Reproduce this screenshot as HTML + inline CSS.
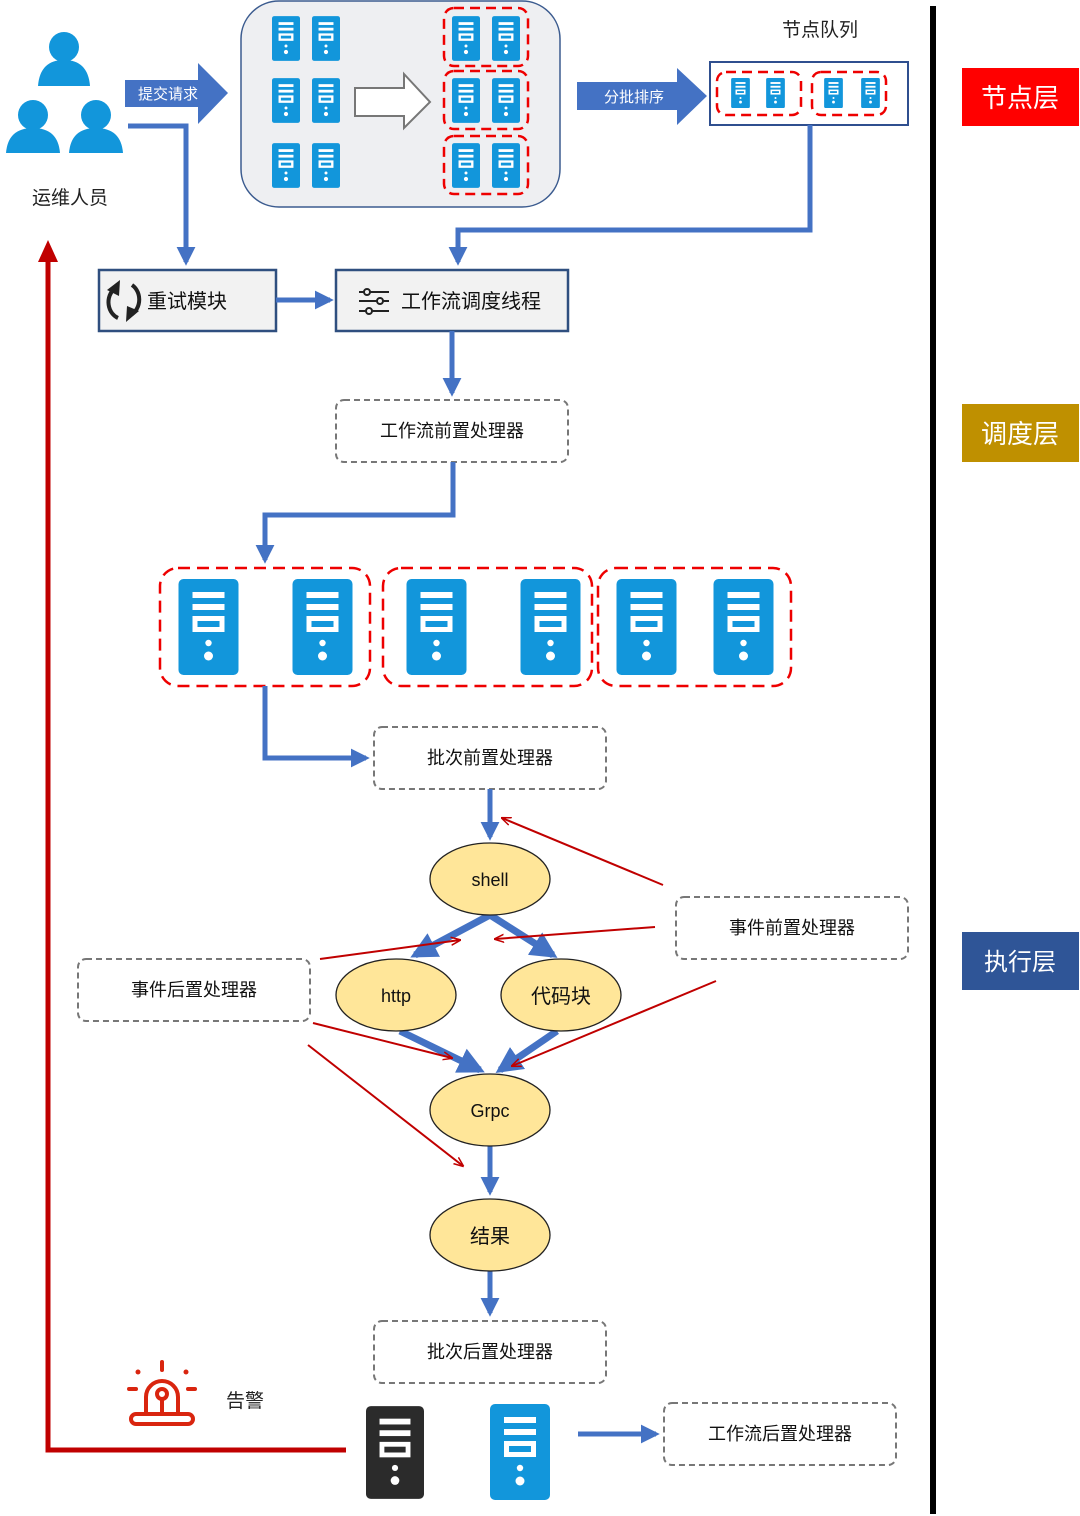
<!DOCTYPE html>
<html><head><meta charset="utf-8"><style>
html,body{margin:0;padding:0;background:#fff;}
svg{display:block;}
text{font-family:"Liberation Sans","Noto Sans CJK SC",sans-serif;}
</style></head><body>
<svg width="1080" height="1516" viewBox="0 0 1080 1516" xmlns="http://www.w3.org/2000/svg">
<defs>
<symbol id="srv" viewBox="0 0 60 96">
<rect x="0" y="0" width="60" height="96" rx="5" fill="currentColor"/>
<rect x="14" y="13" width="32" height="6" fill="#fff"/>
<rect x="14" y="25" width="32" height="6" fill="#fff"/>
<rect x="14" y="37" width="32" height="16" fill="#fff"/>
<rect x="19" y="42" width="22" height="6" fill="currentColor"/>
<circle cx="30" cy="64" r="3.2" fill="#fff"/>
<circle cx="30" cy="77" r="4.5" fill="#fff"/>
</symbol>
<marker id="ab" viewBox="0 0 10 10" refX="8" refY="5" markerWidth="3.8" markerHeight="3.8" orient="auto"><path d="M0,0L10,5L0,10z" fill="#4472c4"/></marker>
<marker id="ar" viewBox="0 0 10 10" refX="9" refY="5" markerWidth="10" markerHeight="10" orient="auto" markerUnits="userSpaceOnUse"><path d="M0,1L10,5L0,9" fill="none" stroke="#c00000" stroke-width="1.5"/></marker>
</defs>

<g fill="#1296db">
<circle cx="64" cy="47" r="15"/><path d="M38,86 Q40,60 64,60 Q88,60 90,86z"/>
<circle cx="33" cy="115" r="15"/><path d="M6,153 Q8,128 33,128 Q58,128 60,153z"/>
<circle cx="96" cy="115" r="15"/><path d="M69,153 Q71,128 96,128 Q121,128 123,153z"/>
</g>
<text x="70" y="204" font-size="19" text-anchor="middle" fill="#222">运维人员</text>

<path d="M125,80H198V63L228,93L198,124V107H125z" fill="#4472c4"/>
<text x="168" y="99" font-size="15" text-anchor="middle" fill="#fff">提交请求</text>
<path d="M128,126H186V262" fill="none" stroke="#4472c4" stroke-width="5" marker-end="url(#ab)"/>

<rect x="241" y="1" width="319" height="206" rx="38" fill="#eeeff2" stroke="#3b5b8f" stroke-width="1.5"/>
<g color="#1296db">
<use href="#srv" x="272" y="14" width="28" height="49"/><use href="#srv" x="312" y="14" width="28" height="49"/>
<use href="#srv" x="272" y="76" width="28" height="49"/><use href="#srv" x="312" y="76" width="28" height="49"/>
<use href="#srv" x="272" y="141" width="28" height="49"/><use href="#srv" x="312" y="141" width="28" height="49"/>
<use href="#srv" x="452" y="14" width="28" height="49"/><use href="#srv" x="492" y="14" width="28" height="49"/>
<use href="#srv" x="452" y="76" width="28" height="49"/><use href="#srv" x="492" y="76" width="28" height="49"/>
<use href="#srv" x="452" y="141" width="28" height="49"/><use href="#srv" x="492" y="141" width="28" height="49"/>
</g>
<g fill="none" stroke="#e00" stroke-width="2.5" stroke-dasharray="10,6">
<rect x="444" y="8" width="84" height="58" rx="10"/>
<rect x="444" y="71" width="84" height="58" rx="10"/>
<rect x="444" y="136" width="84" height="58" rx="10"/>
</g>
<path d="M355,88H404V74L430,102L404,128V116H355z" fill="#fff" stroke="#777" stroke-width="2"/>

<path d="M577,82H677V68L707,96L677,125V110H577z" fill="#4472c4"/>
<text x="634" y="102" font-size="15" text-anchor="middle" fill="#fff">分批排序</text>
<text x="820" y="36" font-size="19" text-anchor="middle" fill="#222">节点队列</text>
<rect x="710" y="62" width="198" height="63" fill="#fff" stroke="#2f4f8f" stroke-width="2"/>
<g color="#1296db">
<use href="#srv" x="731" y="78" width="19" height="30"/><use href="#srv" x="766" y="78" width="19" height="30"/>
<use href="#srv" x="824" y="78" width="19" height="30"/><use href="#srv" x="861" y="78" width="19" height="30"/>
</g>
<g fill="none" stroke="#e00" stroke-width="2.5" stroke-dasharray="10,6">
<rect x="717" y="72" width="84" height="43" rx="9"/>
<rect x="812" y="72" width="74" height="43" rx="9"/>
</g>
<path d="M810,125V230H458V262" fill="none" stroke="#4472c4" stroke-width="5" marker-end="url(#ab)"/>

<rect x="930" y="6" width="6" height="1508" fill="#000"/>
<rect x="962" y="68" width="117" height="58" fill="#ff0000"/>
<text x="1020" y="107" font-size="26" text-anchor="middle" fill="#fff">节点层</text>
<rect x="962" y="404" width="117" height="58" fill="#bf9000"/>
<text x="1020" y="443" font-size="26" text-anchor="middle" fill="#fff">调度层</text>
<rect x="962" y="932" width="117" height="58" fill="#2f5597"/>
<text x="1020" y="970" font-size="24" text-anchor="middle" fill="#fff">执行层</text>

<rect x="99" y="270" width="177" height="61" fill="#f2f2f2" stroke="#2f4f7f" stroke-width="2.5"/>
<g fill="none" stroke="#222" stroke-width="4">
<path d="M114,289 A15,17 0 0 0 118,318"/><path d="M132,285 A15,17 0 0 1 128,316"/>
</g>
<path d="M107,290L120,280L119,296z M139,311L126,322L127,306z" fill="#222"/>
<text x="147" y="308" font-size="20" fill="#111">重试模块</text>
<path d="M276,300H330" stroke="#4472c4" stroke-width="5" marker-end="url(#ab)"/>
<rect x="336" y="270" width="232" height="61" fill="#f2f2f2" stroke="#2f4f7f" stroke-width="2.5"/>
<g stroke="#222" stroke-width="2" fill="#f2f2f2">
<line x1="359" y1="292" x2="389" y2="292"/><line x1="359" y1="301" x2="389" y2="301"/><line x1="359" y1="311" x2="389" y2="311"/>
<circle cx="367" cy="292" r="3"/><circle cx="380" cy="301" r="3"/><circle cx="369" cy="311" r="3"/>
</g>
<text x="401" y="308" font-size="20" fill="#111">工作流调度线程</text>
<path d="M452,331V393" stroke="#4472c4" stroke-width="5" marker-end="url(#ab)"/>

<g fill="#fff" stroke="#777" stroke-width="2" stroke-dasharray="6,4">
<rect x="336" y="400" width="232" height="62" rx="8"/>
<rect x="374" y="727" width="232" height="62" rx="8"/>
<rect x="676" y="897" width="232" height="62" rx="8"/>
<rect x="78" y="959" width="232" height="62" rx="8"/>
<rect x="374" y="1321" width="232" height="62" rx="8"/>
<rect x="664" y="1403" width="232" height="62" rx="8"/>
</g>
<g font-size="18" text-anchor="middle" fill="#111">
<text x="452" y="437">工作流前置处理器</text>
<text x="490" y="764">批次前置处理器</text>
<text x="792" y="934">事件前置处理器</text>
<text x="194" y="996">事件后置处理器</text>
<text x="490" y="1358">批次后置处理器</text>
<text x="780" y="1440">工作流后置处理器</text>
</g>

<path d="M453,462V515H265V560" fill="none" stroke="#4472c4" stroke-width="5" marker-end="url(#ab)"/>
<g color="#1296db">
<use href="#srv" x="178" y="579" width="61" height="96"/><use href="#srv" x="292" y="579" width="61" height="96"/>
<use href="#srv" x="406" y="579" width="61" height="96"/><use href="#srv" x="520" y="579" width="61" height="96"/>
<use href="#srv" x="616" y="579" width="61" height="96"/><use href="#srv" x="713" y="579" width="61" height="96"/>
</g>
<g fill="none" stroke="#e00" stroke-width="2.5" stroke-dasharray="12,7">
<rect x="160" y="568" width="210" height="118" rx="18"/>
<rect x="383" y="568" width="209" height="118" rx="18"/>
<rect x="598" y="568" width="193" height="118" rx="18"/>
</g>
<path d="M265,686V758H366" fill="none" stroke="#4472c4" stroke-width="5" marker-end="url(#ab)"/>
<path d="M490,789V837" stroke="#4472c4" stroke-width="5" marker-end="url(#ab)"/>

<g stroke="#4472c4" stroke-width="7" fill="none" marker-end="url(#ab)">
<path d="M490,915L415,955"/><path d="M490,915L553,955"/>
<path d="M400,1031L480,1070"/><path d="M557,1031L500,1070"/>
</g>
<g stroke="#4472c4" stroke-width="5" marker-end="url(#ab)">
<path d="M490,1146V1192"/><path d="M490,1271V1313"/>
</g>
<g fill="#ffe699" stroke="#222" stroke-width="1.3">
<ellipse cx="490" cy="879" rx="60" ry="36"/>
<ellipse cx="396" cy="995" rx="60" ry="36"/>
<ellipse cx="561" cy="995" rx="60" ry="36"/>
<ellipse cx="490" cy="1110" rx="60" ry="36"/>
<ellipse cx="490" cy="1235" rx="60" ry="36"/>
</g>
<g font-size="18" text-anchor="middle" fill="#111">
<text x="490" y="886">shell</text><text x="396" y="1002">http</text>
<text x="561" y="1003" font-size="20">代码块</text><text x="490" y="1117">Grpc</text>
<text x="490" y="1243" font-size="20">结果</text>
</g>
<g stroke="#c00000" stroke-width="2" fill="none" marker-end="url(#ar)">
<path d="M663,885L502,818"/><path d="M655,927L495,939"/><path d="M716,981L512,1066"/>
<path d="M320,959L460,940"/><path d="M313,1023L452,1058"/><path d="M308,1045L463,1166"/>
</g>

<path d="M346,1450H48V258" fill="none" stroke="#c00000" stroke-width="5"/>
<path d="M38,262L48,240L58,262z" fill="#c00000"/>
<g stroke="#d9250f" stroke-width="4" fill="none" stroke-linecap="round">
<path d="M146,1414V1397A16,16 0 0 1 178,1397V1414"/>
<rect x="131" y="1414" width="62" height="10" rx="5"/>
<circle cx="162" cy="1394" r="5"/><line x1="162" y1="1399" x2="162" y2="1414"/>
<line x1="162" y1="1362" x2="162" y2="1370"/>
<line x1="129" y1="1389" x2="136" y2="1389"/><line x1="188" y1="1389" x2="195" y2="1389"/>
</g>
<circle cx="138" cy="1372" r="2.5" fill="#d9250f"/><circle cx="186" cy="1372" r="2.5" fill="#d9250f"/>
<text x="245" y="1407" font-size="19" text-anchor="middle" fill="#222">告警</text>
<use href="#srv" x="366" y="1405" width="58" height="95" color="#2b2b2b"/>
<use href="#srv" x="490" y="1404" width="60" height="96" color="#1296db"/>
<path d="M578,1434H656" stroke="#4472c4" stroke-width="5" marker-end="url(#ab)"/>
</svg>
</body></html>
